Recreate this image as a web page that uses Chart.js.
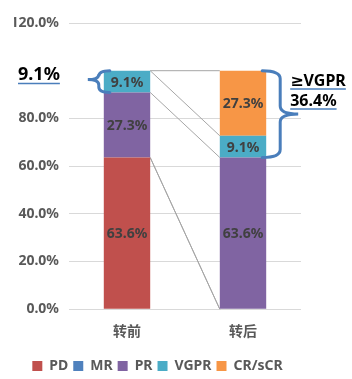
<!DOCTYPE html>
<html>
<head>
<meta charset="utf-8">
<script src="https://cdn.jsdelivr.net/npm/chart.js@4/dist/chart.umd.min.js"></script>
<style>
  html, body { margin: 0; padding: 0; background: #fff; }
  #wrap { width: 352px; height: 379px; }
</style>
</head>
<body>
<div id="wrap"><canvas id="grafico"></canvas></div>
<script>
// dados
const categorias = ['转前', '转后'];
const seriesNomes = ['PD', 'MR', 'PR', 'VGPR', 'CR/sCR'];
const pd = [63.6, 0];
const mr = [0, 0];
const pr = [27.3, 63.6];
const vgpr = [9.1, 9.1];
const crScr = [0, 27.3];
const cores = ['#C0504D', '#4F81BD', '#8064A2', '#4BACC6', '#F79646'];
const valores = [pd, mr, pr, vgpr, crScr];

const fonte = '"Noto Sans", "DejaVu Sans", "Noto Sans CJK SC", sans-serif';
const azulChave = '#4A7EBB';

function chave(ctx, x, yTop, yBot, d, dir, yMid) {
    // desenha uma chave "{" (dir=-1) ou "}" (dir=1)
    const r = Math.min(8, (yBot - yTop) / 4);
    const xs = x + dir * d * 0.5;
    const xt = x + dir * d;
    if (yMid === undefined) yMid = (yTop + yBot) / 2;
    ctx.beginPath();
    ctx.moveTo(x, yTop);
    ctx.quadraticCurveTo(xs, yTop, xs, yTop + r);
    ctx.lineTo(xs, yMid - r);
    ctx.quadraticCurveTo(xs, yMid, xt, yMid);
    ctx.quadraticCurveTo(xs, yMid, xs, yMid + r);
    ctx.lineTo(xs, yBot - r);
    ctx.quadraticCurveTo(xs, yBot, x, yBot);
    ctx.stroke();
}

const pluginExtras = {
    id: 'extras',
    beforeDatasetsDraw(chart) {
        // linhas de série entre as colunas
        const ctx = chart.ctx;
        const y = chart.scales.y;
        ctx.save();
        ctx.strokeStyle = '#A6A6A6';
        ctx.lineWidth = 1;
        let acum0 = 0, acum1 = 0;
        valores.forEach((serie, i) => {
            acum0 += serie[0];
            acum1 += serie[1];
            const meta = chart.getDatasetMeta(i);
            const b0 = meta.data[0], b1 = meta.data[1];
            ctx.beginPath();
            ctx.moveTo(b0.x + b0.width / 2, y.getPixelForValue(acum0));
            ctx.lineTo(b1.x - b1.width / 2, y.getPixelForValue(acum1));
            ctx.stroke();
        });
        ctx.restore();
    },
    afterDatasetsDraw(chart) {
        const ctx = chart.ctx;
        const y = chart.scales.y;
        ctx.save();
        // rótulos de dados
        ctx.font = 'bold 14px ' + fonte;
        ctx.fillStyle = '#404040';
        ctx.textAlign = 'center';
        ctx.textBaseline = 'middle';
        valores.forEach((serie, i) => {
            const meta = chart.getDatasetMeta(i);
            serie.forEach((v, j) => {
                if (!v) return;
                const b = meta.data[j];
                ctx.fillText(v.toFixed(1) + '%', b.x, (b.y + b.base) / 2 + 1);
            });
        });

        // chaves e anotações
        const m3 = chart.getDatasetMeta(3);
        const b0 = m3.data[0], b1 = m3.data[1];
        ctx.strokeStyle = azulChave;
        ctx.lineWidth = 3;
        ctx.lineCap = 'round';
        const topo0 = y.getPixelForValue(pd[0] + mr[0] + pr[0] + vgpr[0]);
        const base0 = y.getPixelForValue(pd[0] + mr[0] + pr[0]);
        chave(ctx, b0.x - b0.width / 2 + 6, topo0, base0, 22, -1, (topo0 + base0) / 2 - 2);

        const topo1 = y.getPixelForValue(100);
        const base1 = y.getPixelForValue(pd[1] + mr[1] + pr[1]);
        chave(ctx, b1.x + b1.width / 2 - 4, topo1, base1, 36, 1);

        ctx.fillStyle = '#000';
        ctx.lineWidth = 1.5;
        ctx.lineCap = 'butt';
        ctx.textBaseline = 'alphabetic';
        ctx.textAlign = 'left';
        ctx.font = 'bold 18px ' + fonte;
        const t1 = vgpr[0].toFixed(1) + '%';
        const w1 = ctx.measureText(t1).width;
        ctx.fillText(t1, 18, 80);
        ctx.beginPath(); ctx.moveTo(18, 83.5); ctx.lineTo(18 + w1, 83.5); ctx.stroke();

        ctx.font = 'bold 16px ' + fonte;
        const t2 = '≥VGPR';
        const t3 = (vgpr[1] + crScr[1]).toFixed(1) + '%';
        const xa = b1.x + b1.width / 2 + 24;
        ctx.fillText(t2, xa, 86);
        ctx.fillText(t3, xa, 106);
        ctx.beginPath(); ctx.moveTo(xa, 89); ctx.lineTo(xa + ctx.measureText(t2).width, 89); ctx.stroke();
        ctx.beginPath(); ctx.moveTo(xa, 109); ctx.lineTo(xa + ctx.measureText(t3).width, 109); ctx.stroke();
        ctx.restore();
    }
};

const ctx = document.getElementById('grafico').getContext('2d');
const grafico = new Chart(ctx, {
    type: 'bar',
    data: {
        labels: categorias,
        datasets: valores.map((serie, i) => ({
            label: seriesNomes[i],
            data: serie,
            backgroundColor: cores[i],
            borderWidth: 0,
            categoryPercentage: 1,
            barPercentage: 0.4
        }))
    },
    options: {
        responsive: true,
        maintainAspectRatio: false,
        animation: false,
        layout: {
            padding: { left: 14, right: 51, top: 23, bottom: -4 }
        },
        plugins: {
            legend: {
                position: 'bottom',
                labels: {
                    boxWidth: 10,
                    boxHeight: 10,
                    padding: 5,
                    color: '#595959',
                    font: { family: fonte, size: 14, weight: 'bold' }
                }
            },
            tooltip: { enabled: false }
        },
        scales: {
            x: {
                stacked: true,
                afterFit(scale) { scale.height += 8; },
                grid: { display: false },
                border: { display: false },
                ticks: {
                    color: '#595959',
                    padding: 6,
                    font: { family: fonte, size: 14, weight: 'bold' }
                }
            },
            y: {
                stacked: true,
                min: 0,
                max: 120,
                afterFit(scale) { scale.width = 55; },
                grid: {
                    color: c => (c.tick && c.tick.value === 100) ? 'rgba(0,0,0,0)' : '#D9D9D9',
                    drawTicks: false
                },
                border: { display: false },
                ticks: {
                    stepSize: 20,
                    padding: 10,
                    color: '#595959',
                    font: { family: fonte, size: 14, weight: 'bold' },
                    callback: v => v === 100 ? '' : v.toFixed(1) + '%'
                }
            }
        }
    },
    plugins: [pluginExtras]
});
</script>
</body>
</html>
